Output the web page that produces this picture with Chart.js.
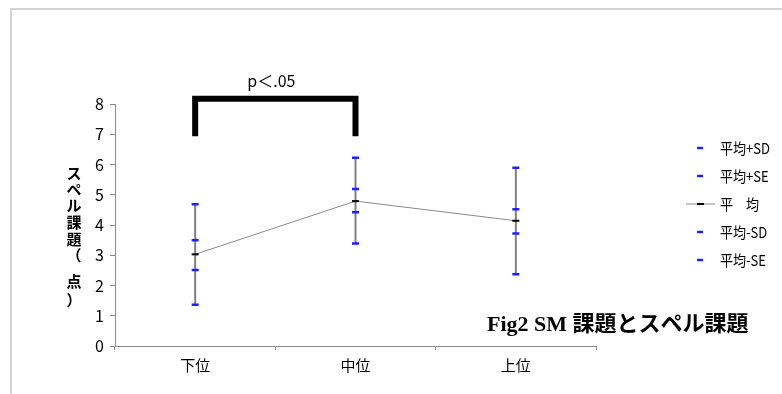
<!DOCTYPE html>
<html>
<head>
<meta charset="utf-8">
<script src="https://cdn.jsdelivr.net/npm/chart.js@4/dist/chart.umd.min.js"></script>
<style>
  html, body { margin: 0; padding: 0; background: #fff; }
  #frame { position: absolute; left: 10px; top: 8px; right: 0; bottom: 0;
           border-top: 2px solid #d4d4d4; border-left: 2px solid #d4d4d4; }
  #chart { position: absolute; left: 0; top: 0; }
</style>
</head>
<body>
<div id="frame"></div>
<canvas id="chart" width="782" height="394"></canvas>
<script>
// categories and values
const groups = ['下位', '中位', '上位'];
const mean_plus_sd = [4.69, 6.22, 5.89];
const mean_plus_se = [3.50, 5.19, 4.52];
const mean_values = [3.03, 4.79, 4.14];
const mean_minus_sd = [1.36, 3.39, 2.37];
const mean_minus_se = [2.51, 4.42, 3.72];
const y_ticks = [0, 1, 2, 3, 4, 5, 6, 7, 8];

// significance bracket between 下位 and 中位
const bracket_x = ['下位', '下位', '中位', '中位'];
const bracket_y = [6.93, 8.17, 8.17, 6.93];
const bracket_label = 'p＜.05';

const y_title_chars = ['ス', 'ペ', 'ル', '課', '題', '（', '点', '）'];
const fig_title = 'Fig2 SM 課題とスペル課題';

const BLUE = '#1f1fff';
const JP = '"Noto Sans CJK JP", "Noto Sans", sans-serif';

function dash_set(label, values) {
    return {
        label: label,
        data: values,
        showLine: false,
        pointStyle: 'line',
        pointRadius: 3.5,
        pointBorderWidth: 2.5,
        pointBorderColor: BLUE,
        borderColor: BLUE,
        isDash: true
    };
}

/**
 * draws the SD whiskers behind the dashes
 **/
const whiskers = {
    id: 'whiskers',
    beforeDatasetsDraw(chart) {
        const ctx = chart.ctx;
        const xs = chart.scales.x, ys = chart.scales.y;
        ctx.save();
        ctx.strokeStyle = '#7f7f7f';
        ctx.lineWidth = 2;
        groups.forEach((g, i) => {
            const x = xs.getPixelForValue(i);
            ctx.beginPath();
            ctx.moveTo(x, ys.getPixelForValue(mean_minus_sd[i]));
            ctx.lineTo(x, ys.getPixelForValue(mean_plus_sd[i]));
            ctx.stroke();
        });
        ctx.restore();
    }
};

/**
 * texts and legend drawn over the chart
 **/
const extras = {
    id: 'extras',
    afterDraw(chart) {
        const ctx = chart.ctx;
        const xs = chart.scales.x, ys = chart.scales.y;
        ctx.save();

        // p value over the bracket
        ctx.fillStyle = '#000';
        ctx.font = '16px ' + JP;
        ctx.textAlign = 'center';
        ctx.textBaseline = 'middle';
        const px = (xs.getPixelForValue(0) + xs.getPixelForValue(1)) / 2;
        ctx.fillText(bracket_label, px - 4, ys.getPixelForValue(bracket_y[1]) - 18);

        // vertical y title
        ctx.font = 'bold 15px ' + JP;
        const title_y = [173, 189, 205, 222, 239, 255, 281, 300];
        y_title_chars.forEach((c, i) => ctx.fillText(c, 74, title_y[i]));

        // legend (slightly condensed text)
        ctx.font = '15px ' + JP;
        ctx.textAlign = 'left';
        chart.data.datasets.filter(d => d.label).forEach((d, i) => {
            const y = 148 + i * 28;
            if (d.isDash) {
                ctx.strokeStyle = BLUE;
                ctx.lineWidth = 2.5;
                ctx.beginPath(); ctx.moveTo(697, y); ctx.lineTo(703, y); ctx.stroke();
            } else {
                ctx.strokeStyle = '#8a8a8a';
                ctx.lineWidth = 1;
                ctx.beginPath(); ctx.moveTo(686, y); ctx.lineTo(715, y); ctx.stroke();
                ctx.strokeStyle = '#000';
                ctx.lineWidth = 2;
                ctx.beginPath(); ctx.moveTo(697, y); ctx.lineTo(704, y); ctx.stroke();
            }
            ctx.fillStyle = '#000';
            ctx.save();
            ctx.translate(720, y);
            ctx.scale(0.87, 1);
            ctx.fillText(d.label, 0, 0);
            ctx.restore();
        });

        // figure caption
        ctx.font = 'bold 22px "Liberation Serif", "Noto Sans CJK JP", serif';
        ctx.fillText(fig_title, 487, 325);
        ctx.restore();
    }
};

const ctx = document.getElementById('chart').getContext('2d');
const chart = new Chart(ctx, {
    type: 'line',
    data: {
        labels: groups,
        datasets: [
            dash_set('平均+SD', mean_plus_sd),
            dash_set('平均+SE', mean_plus_se),
            {
                label: '平　均',
                data: mean_values,
                borderColor: '#8a8a8a',
                borderWidth: 1,
                pointStyle: 'line',
                pointRadius: 3.5,
                pointBorderWidth: 2,
                pointBorderColor: '#000',
                tension: 0
            },
            dash_set('平均-SD', mean_minus_sd),
            dash_set('平均-SE', mean_minus_se),
            {
                data: bracket_x.map((x, i) => ({ x: x, y: bracket_y[i] })),
                borderColor: '#000',
                borderWidth: 6,
                borderJoinStyle: 'miter',
                borderCapStyle: 'butt',
                pointRadius: 0,
                tension: 0,
                clip: false
            }
        ]
    },
    options: {
        responsive: false,
        animation: false,
        devicePixelRatio: 1,
        layout: { padding: { left: 0, right: 186, top: 104, bottom: 0 } },
        plugins: {
            legend: { display: false },
            tooltip: { enabled: false }
        },
        scales: {
            x: {
                offset: true,
                afterFit: s => { s.height = 48; },
                grid: { display: true, offset: true, drawOnChartArea: false, color: '#8c8c8c', tickLength: 4 },
                border: { color: '#8c8c8c', width: 1 },
                ticks: { color: '#000', font: { family: JP, size: 15 }, padding: 6 }
            },
            y: {
                min: 0,
                max: 8,
                afterFit: s => { s.width = 115; },
                afterBuildTicks: s => { s.ticks = y_ticks.map(v => ({ value: v })); },
                grid: { display: true, drawOnChartArea: false, color: '#8c8c8c', tickLength: 5 },
                border: { color: '#8c8c8c', width: 1 },
                ticks: { color: '#000', font: { family: JP, size: 16 }, padding: 6 }
            }
        }
    },
    plugins: [whiskers, extras]
});
</script>
</body>
</html>
